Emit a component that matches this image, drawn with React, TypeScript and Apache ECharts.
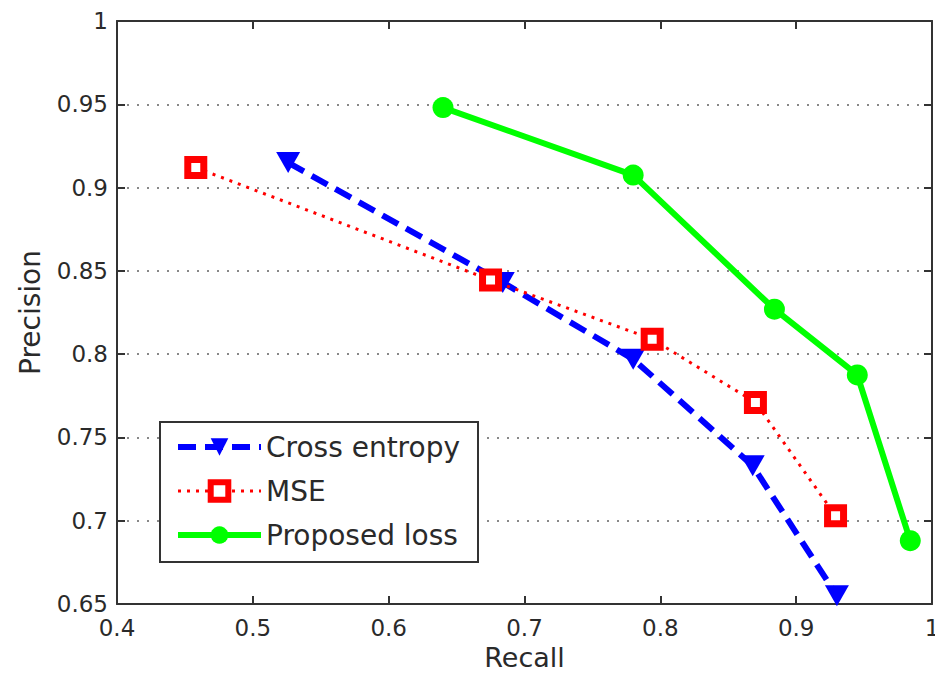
import React, { useEffect, useRef } from "react";
import * as echarts from "echarts";

const seriesNames = ["Cross entropy", "MSE", "Proposed loss"];
const crossEntropy = [
  [0.526, 0.915],
  [0.684, 0.843],
  [0.78, 0.797],
  [0.868, 0.733],
  [0.93, 0.655],
];
const mse = [
  [0.458, 0.912],
  [0.675, 0.8445],
  [0.794, 0.809],
  [0.87, 0.771],
  [0.929, 0.703],
];
const proposed = [
  [0.64, 0.948],
  [0.78, 0.9075],
  [0.884, 0.827],
  [0.945, 0.7875],
  [0.984, 0.688],
];

const FONT = "DejaVu Sans, Liberation Sans, sans-serif";
const TXT = "#2a2a2a";
const AX = "#333";

const BLUE = { line: { color: "#0000ff", width: 6, type: [18, 9] }, item: { color: "#0000ff" } };
const RED = {
  line: { color: "#ff0000", width: 3, type: [3, 6] },
  item: { color: "#fff", borderColor: "#ff0000", borderWidth: 7 },
};
const GREEN = { line: { color: "#00ff00", width: 6 }, item: { color: "#00ff00" } };

export default function App() {
  const ref = useRef<HTMLDivElement>(null);
  useEffect(() => {
    if (!ref.current) return;
    const chart = echarts.init(ref.current, undefined, { renderer: "svg" });
    const baseAxisLine = { show: true, lineStyle: { color: AX, width: 2 } };
    const tickInside = { show: true, inside: true, length: 8, lineStyle: { color: AX, width: 2 } };
    chart.setOption({
      animation: false,
      backgroundColor: "#fff",
      grid: {
        left: 117,
        right: 3,
        top: 21,
        bottom: 70,
        containLabel: false,
        outerBoundsMode: "none",
      },
      xAxis: [
        {
          type: "value",
          min: 0.4,
          max: 1,
          interval: 0.1,
          position: "bottom",
          name: "Recall",
          nameLocation: "middle",
          nameGap: 40,
          nameTextStyle: { fontFamily: FONT, fontSize: 27, color: TXT },
          axisLine: baseAxisLine,
          axisTick: tickInside,
          axisLabel: { fontFamily: FONT, fontSize: 23, color: TXT, margin: 12 },
          splitLine: { show: false },
        },
        {
          type: "value",
          min: 0.4,
          max: 1,
          interval: 0.1,
          position: "top",
          axisLine: baseAxisLine,
          axisTick: tickInside,
          axisLabel: { show: false },
          splitLine: { show: false },
        },
      ],
      yAxis: [
        {
          type: "value",
          min: 0.65,
          max: 1,
          interval: 0.05,
          position: "left",
          name: "Precision",
          nameLocation: "middle",
          nameGap: 73,
          nameTextStyle: { fontFamily: FONT, fontSize: 28, color: TXT },
          axisLine: baseAxisLine,
          axisTick: tickInside,
          axisLabel: { fontFamily: FONT, fontSize: 23, color: TXT, margin: 9 },
          splitLine: { show: true, lineStyle: { color: "#888", width: 2, type: [2, 8] } },
        },
        {
          type: "value",
          min: 0.65,
          max: 1,
          interval: 0.05,
          position: "right",
          axisLine: baseAxisLine,
          axisTick: tickInside,
          axisLabel: { show: false },
          splitLine: { show: false },
        },
      ],
      legend: {
        orient: "vertical",
        left: 160,
        top: 422,
        padding: [11, 15, 13, 15],
        itemWidth: 83,
        itemHeight: 22,
        itemGap: 16,
        backgroundColor: "#fff",
        borderColor: "#333",
        borderWidth: 2,
        data: [
          { name: seriesNames[0], lineStyle: BLUE.line, itemStyle: BLUE.item },
          { name: seriesNames[1], lineStyle: RED.line, itemStyle: { ...RED.item, borderWidth: 6 } },
          { name: seriesNames[2], lineStyle: GREEN.line, itemStyle: GREEN.item },
        ],
        textStyle: {
          fontFamily: FONT,
          fontSize: 28,
          lineHeight: 28,
          color: TXT,
          width: 197,
          padding: [0, 0, 0, 0],
        },
      },
      series: [
        {
          name: seriesNames[0],
          type: "line",
          data: crossEntropy,
          symbol: "triangle",
          symbolRotate: 180,
          symbolSize: [24, 21],
          lineStyle: BLUE.line,
          itemStyle: BLUE.item,
          z: 3,
        },
        {
          name: seriesNames[1],
          type: "line",
          data: mse,
          symbol: "rect",
          symbolSize: 16,
          lineStyle: RED.line,
          itemStyle: RED.item,
          z: 4,
        },
        {
          name: seriesNames[2],
          type: "line",
          data: proposed,
          symbol: "circle",
          symbolSize: 21,
          lineStyle: GREEN.line,
          itemStyle: GREEN.item,
          z: 5,
        },
      ],
    });
    return () => chart.dispose();
  }, []);
  return (
    <div
      ref={ref}
      style={{ position: "fixed", left: 0, top: 0, width: 935, height: 674 }}
    />
  );
}
